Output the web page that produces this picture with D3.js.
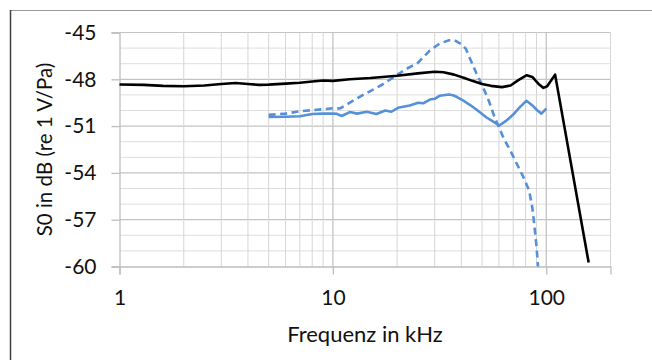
<!DOCTYPE html>
<html>
<head>
<meta charset="utf-8">
<script src="https://cdn.jsdelivr.net/npm/d3@7"></script>
<style>
  body { margin: 0; background: #fff; }
  svg { display: block; }
  .tick text { font-family: Lato, "Open Sans", sans-serif; fill: #111; }
</style>
</head>
<body>
<div id="chart"></div>
<script>
// frequency in kHz / sensitivity in dB re 1 V/Pa
const blackFreq = [1, 1.3, 1.6, 2, 2.5, 3, 3.5, 4, 4.5, 5, 6, 7, 8, 9, 10, 12, 15, 20, 25, 30, 33, 37, 41, 45, 50, 55, 62, 68, 74, 81, 86, 92, 97, 101, 110, 158];
const blackS0 = [-48.33, -48.36, -48.42, -48.45, -48.4, -48.3, -48.24, -48.3, -48.36, -48.34, -48.28, -48.22, -48.14, -48.08, -48.1, -48.0, -47.92, -47.77, -47.62, -47.52, -47.55, -47.7, -47.9, -48.1, -48.3, -48.42, -48.5, -48.4, -48.05, -47.74, -47.85, -48.3, -48.55, -48.45, -47.7, -59.75];

const dashFreq = [5, 6, 7, 8, 9, 10, 10.8, 12, 14, 17, 20, 22, 25, 28.5, 31.7, 35, 37, 40, 42, 44, 47, 50, 54, 57, 63, 68, 78, 83, 86, 88, 90, 91.5];
const dashS0 = [-50.28, -50.2, -50.05, -49.98, -49.92, -49.85, -49.87, -49.5, -48.97, -48.35, -47.72, -47.35, -46.95, -46.15, -45.7, -45.5, -45.48, -45.75, -46.05, -46.7, -47.6, -48.35, -49.44, -50.36, -51.75, -52.6, -54.25, -55.1, -56.2, -57.4, -58.7, -60];

const solidFreq = [5, 6, 7, 8, 9, 10, 10.4, 11, 12, 13, 14.4, 16, 17.6, 18.8, 20.2, 22.9, 25.1, 26.5, 28.5, 30, 31.7, 33, 35, 36.5, 38, 40.7, 44, 47, 52.5, 57.4, 60.2, 65, 70, 75, 80.7, 86.5, 91, 94.9, 100];
const solidS0 = [-50.42, -50.4, -50.37, -50.22, -50.2, -50.2, -50.21, -50.35, -50.1, -50.2, -50.08, -50.22, -50.0, -50.08, -49.83, -49.68, -49.5, -49.54, -49.3, -49.25, -49.05, -49.02, -48.97, -49.02, -49.12, -49.35, -49.65, -49.94, -50.45, -50.78, -50.96, -50.65, -50.26, -49.8, -49.38, -49.7, -50.0, -50.2, -49.88];

const yTicks = [-60, -57, -54, -51, -48, -45];
const xTicks = [1, 10, 100];

const width = 652, height = 360;
const margin = {top: 32.5, right: 41.5, bottom: 93.5, left: 119.5};
const fontFamily = 'Lato, "Open Sans", sans-serif';

const svg = d3.select('#chart')
  .append('svg')
  .attr('width', width)
  .attr('height', height);

svg.append('rect').attr('width', width).attr('height', height).attr('fill', '#fff');

// chart frame (only top and left edges fall inside the picture)
svg.append('line').attr('x1', 10).attr('x2', width).attr('y1', 10.5).attr('y2', 10.5)
  .attr('stroke', '#9a9a9a').attr('stroke-width', 1.2);
svg.append('line').attr('x1', 10.5).attr('x2', 10.5).attr('y1', 10).attr('y2', height)
  .attr('stroke', '#404040').attr('stroke-width', 1.5);

const x = d3.scaleLog()
  .domain([1, 200])
  .range([margin.left, width - margin.right]);

const y = d3.scaleLinear()
  .domain([-60, -45])
  .range([height - margin.bottom, margin.top]);

const grid = svg.append('g').attr('class', 'grid');

// horizontal grid, every 1 dB, darker every 3 dB
d3.range(-59, -44, 1).forEach(v => {
  const major = yTicks.includes(v);
  grid.append('line')
    .attr('x1', x.range()[0]).attr('x2', x.range()[1])
    .attr('y1', y(v)).attr('y2', y(v))
    .attr('stroke', major ? '#c4c4c4' : '#dedede')
    .attr('stroke-width', major ? 1.2 : 1);
});

// vertical grid from the log scale's own ticks
x.ticks().filter(f => f > 1).forEach(f => {
  const major = xTicks.includes(f);
  grid.append('line')
    .attr('x1', x(f)).attr('x2', x(f))
    .attr('y1', y.range()[0]).attr('y2', y.range()[1])
    .attr('stroke', major ? '#c4c4c4' : '#d6d6d6')
    .attr('stroke-width', major ? 1.3 : 1);
});

// axes
const yAxis = svg.append('g')
  .attr('transform', 'translate(' + margin.left + ',0)')
  .call(d3.axisLeft(y).tickValues(yTicks).tickSize(8).tickPadding(15));

const xAxis = svg.append('g')
  .attr('transform', 'translate(0,' + (height - margin.bottom) + ')')
  .call(d3.axisBottom(x).tickValues(xTicks).tickFormat(d3.format('d')).tickSize(8).tickPadding(16));

[yAxis, xAxis].forEach(g => {
  g.select('.domain').attr('stroke', '#bdbdbd').attr('stroke-width', 1.3);
  g.selectAll('.tick line').attr('stroke', '#bdbdbd').attr('stroke-width', 1.3);
  g.selectAll('.tick text').attr('font-size', 21);
});
yAxis.selectAll('.tick text').text(d => String(d));

// axis titles
svg.append('text')
  .attr('transform', 'translate(52,' + ((y.range()[0] + y.range()[1]) / 2) + ') rotate(-90)')
  .attr('text-anchor', 'middle')
  .attr('font-family', fontFamily)
  .attr('font-size', 20.5)
  .attr('fill', '#111')
  .text('S0 in dB (re 1 V/Pa)');

svg.append('text')
  .attr('x', (x.range()[0] + x.range()[1]) / 2)
  .attr('y', 342)
  .attr('text-anchor', 'middle')
  .attr('font-family', fontFamily)
  .attr('font-size', 22)
  .attr('fill', '#111')
  .text('Frequenz in kHz');

// curves
const line = d3.line()
  .x(d => x(d[0]))
  .y(d => y(d[1]));

const plotLines = svg.append('g');

plotLines.append('path')
  .datum(d3.zip(solidFreq, solidS0))
  .attr('d', line)
  .attr('fill', 'none')
  .attr('stroke', '#5590d8')
  .attr('stroke-width', 2.6)
  .attr('stroke-linejoin', 'round');

plotLines.append('path')
  .datum(d3.zip(dashFreq, dashS0))
  .attr('d', line)
  .attr('fill', 'none')
  .attr('stroke', '#5590d8')
  .attr('stroke-width', 2.6)
  .attr('stroke-dasharray', '7,4.5');

plotLines.append('path')
  .datum(d3.zip(blackFreq, blackS0))
  .attr('d', line)
  .attr('fill', 'none')
  .attr('stroke', '#000')
  .attr('stroke-width', 2.6)
  .attr('stroke-linejoin', 'round');
</script>
</body>
</html>
